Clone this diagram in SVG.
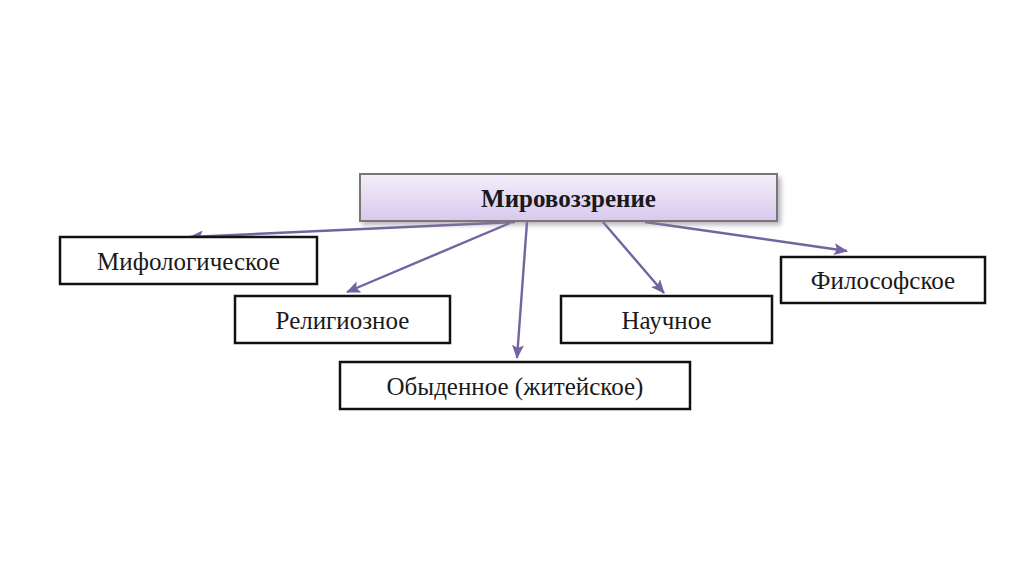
<svg xmlns="http://www.w3.org/2000/svg" width="1024" height="574" viewBox="0 0 1024 574">
<style>
.box{fill:#fff;stroke:#111;stroke-width:2.5}
.lbl{font-family:"Liberation Serif","Times New Roman",serif;font-size:25px;fill:#1a1a1a;text-anchor:middle;dominant-baseline:central}
.conn{stroke:#7463a0;stroke-width:2.4;fill:none;marker-end:url(#ah)}
</style>
<defs>
<linearGradient id="g" x1="0" y1="0" x2="0" y2="1">
<stop offset="0" stop-color="#f4effa"/>
<stop offset="1" stop-color="#d8c8ee"/>
</linearGradient>
<filter id="sh" x="-10%" y="-30%" width="120%" height="160%">
<feGaussianBlur stdDeviation="2.5"/>
</filter>
<marker id="ah" viewBox="0 0 14 12" refX="13" refY="6" markerWidth="14" markerHeight="12" markerUnits="userSpaceOnUse" orient="auto">
<path d="M0,0 L14,6 L0,12 L3,6 Z" fill="#7463a0"/>
</marker>
</defs>
<rect width="1024" height="574" fill="#fff"/>
<g id="connectors">
<line class="conn" x1="515" y1="222" x2="190" y2="237"/>
<line class="conn" x1="510" y1="223" x2="347" y2="292"/>
<line class="conn" x1="527" y1="222" x2="517" y2="358"/>
<line class="conn" x1="603" y1="222" x2="664" y2="293"/>
<line class="conn" x1="645" y1="222" x2="847" y2="251"/>
</g>
<g id="root">
<rect x="362" y="177" width="419" height="48" fill="#8a8090" opacity="0.6" filter="url(#sh)"/>
<rect x="360" y="174" width="417" height="47" fill="url(#g)" stroke="#777" stroke-width="2"/>
<text class="lbl" x="568.5" y="198" font-weight="bold" font-size="24">Мировоззрение</text>
</g>
<g id="myth">
<rect class="box" x="60" y="237" width="257" height="47"/>
<text class="lbl" x="188.5" y="261">Мифологическое</text>
</g>
<g id="relig">
<rect class="box" x="235" y="296" width="215" height="47"/>
<text class="lbl" x="342.5" y="320">Религиозное</text>
</g>
<g id="ordinary">
<rect class="box" x="340" y="362" width="350" height="47"/>
<text class="lbl" x="515" y="386">Обыденное (житейское)</text>
</g>
<g id="science">
<rect class="box" x="561" y="296" width="211" height="47"/>
<text class="lbl" x="666.5" y="320">Научное</text>
</g>
<g id="philo">
<rect class="box" x="781" y="257" width="204" height="46"/>
<text class="lbl" x="883" y="280">Философское</text>
</g>
</svg>
